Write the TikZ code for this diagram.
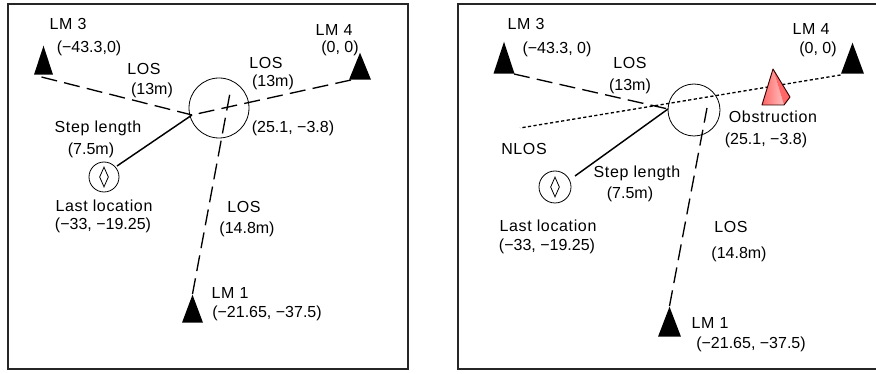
\documentclass[tikz,border=0pt]{standalone}
\usepackage{fontspec}
\setmainfont{Liberation Sans}
\usetikzlibrary{shapes.geometric}
\tikzset{
  x=0.75pt,y=-0.75pt,
  lab/.style={inner sep=0pt,font=\fontsize{12pt}{14pt}\selectfont},
  wrd/.style={inner sep=0pt,font=\fontsize{12pt}{14pt}\selectfont\addfontfeature{LetterSpace=4}},
  lmark/.style 2 args={isosceles triangle,isosceles triangle stretches,shape border rotate=90,fill=black,inner sep=0pt,anchor=lower side,minimum width=#1*0.75pt,minimum height=#2*0.75pt},
  los/.style={dash pattern=on 12pt off 5.5pt,line width=1pt},
  nlos/.style={dash pattern=on 2.4pt off 1.8pt,line width=1pt},
  steplen/.style={line width=1.1pt},
  frm/.style={line width=1.3pt,draw=black!85},
  fixcirc/.style={circle,draw,line width=0.6pt,inner sep=0pt,minimum size=#1*0.75pt},
  lastmark/.style={diamond,draw,line width=0.6pt,inner sep=0pt,aspect=0.42,minimum width=9*0.75pt,minimum height=20*0.75pt}
}
\begin{document}
\begin{tikzpicture}
\useasboundingbox (0,0) rectangle (876,374);

% left panel
\node[frm,draw,rectangle,inner sep=0pt,minimum width=400*0.75pt,minimum height=365*0.75pt] (framea) at (208,186.5) {};
\node[lmark={19}{29}] (lma3) at (43.5,75) {};
\node[lmark={22}{27}] (lma4) at (360,80) {};
\node[lmark={21}{28}] (lma1) at (192.5,323) {};
\node[fixcirc=60] (posa) at (219,108) {};
\node[fixcirc=30] (lasta) at (104,177) {};
\node[lastmark] (marka) at (104,177) {};
\coordinate (fixa) at (192,115);
\coordinate (topa) at (230,93);
\draw[los] (lma3.lower side) ++(-2,2) -- (fixa);
\draw[los] (lma4.lower side) ++(-9,0) -- (fixa);
\draw[los] (lma1.apex) -- (topa);
\draw[steplen] (lasta) ++(13,-11) -- (fixa);
\node[wrd] (namea3) at (68,24) {LM 3};
\node[lab] (coora3) at (89,48) {(−43.3,0)};
\node[wrd] (namea4) at (334,30) {LM 4};
\node[lab] (coora4) at (340,48) {(0, 0)};
\node[wrd] (namea1) at (230,293) {LM 1};
\node[lab] (coora1) at (267,313) {(−21.65, −37.5)};
\node[wrd] (losa3) at (144,69) {LOS};
\node[lab] (dista3) at (152,90) {(13m)};
\node[wrd] (losa4) at (266,63) {LOS};
\node[lab] (dista4) at (273,82) {(13m)};
\node[lab] (coorpa) at (293,128) {(25.1, −3.8)};
\node[wrd] (stepa) at (98,128) {Step length};
\node[lab] (stepda) at (91,150) {(7.5m)};
\node[wrd] (lasttxta) at (104,206) {Last location};
\node[lab] (lastcoa) at (103,225) {(−33, −19.25)};
\node[wrd] (losa1) at (244,207) {LOS};
\node[lab] (dista1) at (247,229) {(14.8m)};

% right panel
\begin{scope}[shift={(438,0)}]
\node[frm,draw,rectangle,inner sep=0pt,minimum width=430*0.75pt,minimum height=365*0.75pt] (frameb) at (235,186.5) {};
\node[lmark={21}{32}] (lmb3) at (66,74) {};
\node[lmark={23}{31}] (lmb4) at (414.5,74) {};
\node[lmark={23}{30}] (lmb1) at (231.5,337) {};
\node[fixcirc=52] (posb) at (256,110) {};
\node[fixcirc=32] (lastb) at (117,187) {};
\node[lastmark] (markb) at (117,187) {};
\coordinate (fixb) at (230,109);
\coordinate (topb) at (269,108);
\coordinate (nlosb) at (82,128);
\draw[los] (lmb3.lower side) ++(10,0) -- (fixb);
\draw[nlos] (lmb4.lower side) ++(-12,1) -- (nlosb);
\draw[los] (lmb1.apex) -- (topb);
\draw[steplen] (lastb) ++(20,-11) -- (fixb);
% obstruction
\shade[left color=red!60!white,right color=red!25!white] (335,69) -- (324,105) -- (346,105) -- cycle;
\fill[red!60!white] (335,69) -- (346,105) -- (352,97) -- cycle;
\draw[line width=0.7pt,line join=round,black!80!red] (335,69) -- (324,105) -- (346,105) -- (352,97) -- cycle;
\node[wrd] (nameb3) at (88,24) {LM 3};
\node[lab] (coorb3) at (119,49) {(−43.3, 0)};
\node[wrd] (nameb4) at (373,29) {LM 4};
\node[lab] (coorb4) at (380,49) {(0, 0)};
\node[wrd] (nameb1) at (272,323) {LM 1};
\node[lab] (coorb1) at (313,344) {(−21.65, −37.5)};
\node[wrd] (losb3) at (192,63) {LOS};
\node[lab] (distb3) at (192,86) {(13m)};
\node[wrd] (obstb) at (335,117) {Obstruction};
\node[lab] (coorpb) at (328,140) {(25.1, −3.8)};
\node[wrd] (nlostxt) at (86,149) {NLOS};
\node[wrd] (stepb) at (199,173) {Step length};
\node[lab] (stepdb) at (192,194) {(7.5m)};
\node[wrd] (lasttxtb) at (110,226) {Last location};
\node[lab] (lastcob) at (109,246) {(−33, −19.25)};
\node[wrd] (losb1) at (293,227) {LOS};
\node[lab] (distb1) at (301,254) {(14.8m)};
\end{scope}
\end{tikzpicture}
\end{document}
